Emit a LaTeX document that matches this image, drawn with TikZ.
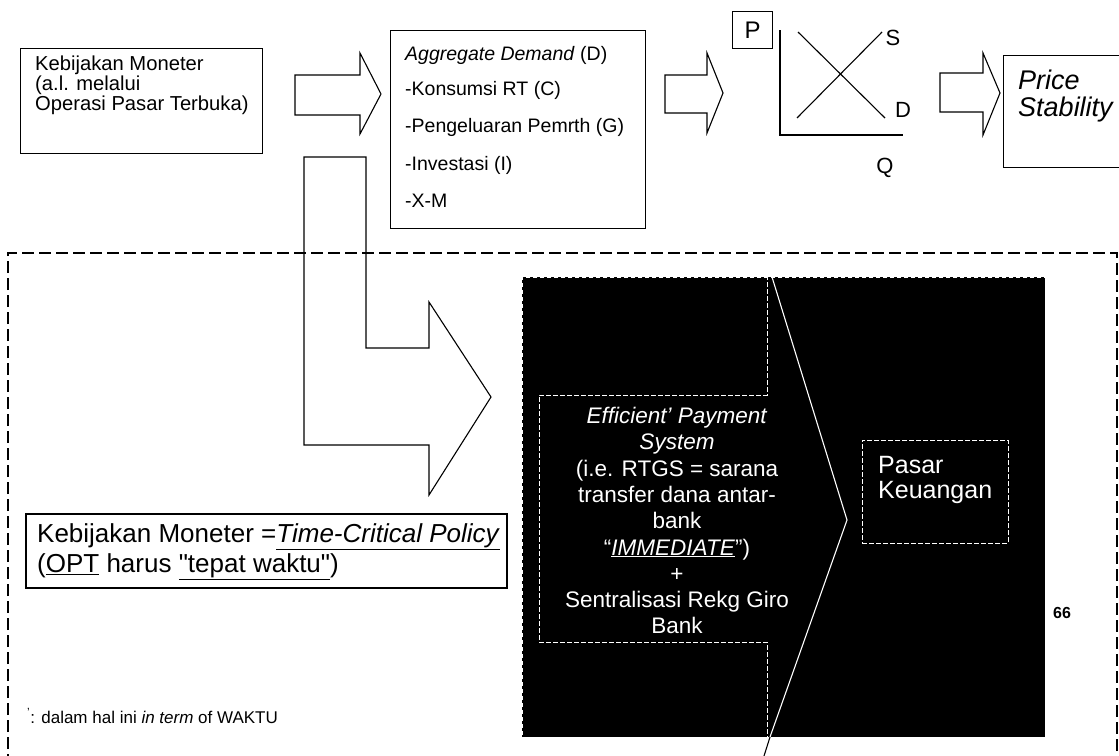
\documentclass[tikz,border=0pt]{standalone}
\usepackage{fontspec}
\setmainfont{Liberation Sans}
\begin{document}
\begin{tikzpicture}[x=1pt,y=-1pt,
  box/.style={draw=black,line width=1.2pt,fill=white,inner sep=0pt},
  blockarrow/.style={draw=black,line width=1.1pt,fill=white,line join=miter},
  frame/.style={draw=black,line width=1.8pt,dash pattern=on 12pt off 5pt},
  wdash/.style={draw=white,line width=0.9pt,dash pattern=on 5pt off 2pt},
  txt/.style={inner sep=0pt,text=black},
  wtxt/.style={inner sep=0pt,text=white},
  fs/.style={font=\fontsize{#1}{#1}\selectfont}]
\useasboundingbox (0,0) rectangle (1119,755);
\clip (0,0) rectangle (1119,755);

% ---- top row ----
\node[box,anchor=north west,minimum width=242pt,minimum height=105pt] (km) at (20,48) {};
\node[txt,anchor=north west,align=left,font=\fontsize{20.2}{18.8}\selectfont] (kmtext) at (35,56)
  {Kebijakan Moneter\\(a.l. melalui\\Operasi Pasar Terbuka)};

\coordinate (a1b) at (295,75);
\draw[blockarrow] (a1b) -- (360,75) -- (360,53) -- (381,94) -- (360,134) -- (360,115) -- (295,115) -- cycle;

\node[box,anchor=north west,minimum width=255pt,minimum height=198pt] (ad) at (390,30) {};
\node[txt,fs=19.5,anchor=base west] (ad0) at (405,60) {\textit{Aggregate Demand} (D)};
\node[txt,fs=19.5,anchor=base west] (ad1) at (405,95) {-Konsumsi RT (C)};
\node[txt,fs=19.5,anchor=base west] (ad2) at (405,132) {-Pengeluaran Pemrth (G)};
\node[txt,fs=19.5,anchor=base west] (ad3) at (405,170) {-Investasi (I)};
\node[txt,fs=19.5,anchor=base west] (ad4) at (405,207) {-X-M};

\draw[blockarrow] (665,75) -- (707,75) -- (707,53) -- (723,93) -- (707,133) -- (707,113) -- (665,113) -- cycle;

\node[box,anchor=north west,minimum width=40pt,minimum height=37pt,line width=1pt] (pbox) at (732,11) {};
\node[txt,fs=24] (p) at (pbox.center) {P};
\coordinate (ax0) at (780,30);
\coordinate (ax1) at (780,135);
\coordinate (ax2) at (903,135);
\draw[line width=1.1pt] (ax0) -- (ax1) -- (ax2);
\coordinate (s0) at (797,118);
\coordinate (s1) at (882,32);
\coordinate (d0) at (798,32);
\coordinate (d1) at (885,118);
\draw[line width=1.1pt] (s0) -- (s1);
\draw[line width=1.1pt] (d0) -- (d1);
\node[txt,fs=22] (slab) at (893,38) {S};
\node[txt,fs=22] (dlab) at (903,110) {D};
\node[txt,fs=22] (qlab) at (885,168) {Q};

\draw[blockarrow] (940,73) -- (983,73) -- (983,53) -- (1000,93) -- (983,135) -- (983,112) -- (940,112) -- cycle;

\node[box,anchor=north west,minimum width=125pt,minimum height=112pt] (ps) at (1003,55) {};
\node[txt,anchor=north west,align=left,font=\fontsize{27}{27}\selectfont\itshape] (pstext) at (1018,70)
  {Price\\Stability};

% ---- L-shaped arrow ----
\draw[blockarrow] (304,157) -- (366,157) -- (366,348) -- (429,348) -- (429,302) -- (491,397)
  -- (429,495) -- (429,445) -- (304,445) -- cycle;

% ---- dashed frame ----
\draw[frame] (8,800) -- (8,253) -- (1117,253) -- (1117,800);

% ---- dark panel ----
\node[anchor=north west,fill=black,draw=white,line width=0.8pt,dash pattern=on 4pt off 3pt,
  minimum width=523pt,minimum height=460pt,inner sep=0pt] (panel) at (522,277) {};
\draw[wdash] (539,640) -- (539,395) -- (767,395) -- (767,277);
\draw[wdash] (539,642) -- (767,642) -- (767,737);
\coordinate (cv0) at (772,277);
\coordinate (cv1) at (847,520);
\coordinate (cv2) at (770,737);
\coordinate (cv3) at (764,756);
\draw[white,line width=1.1pt] (cv0) -- (cv1) -- (cv2);
\draw[black,line width=1.1pt] (cv2) -- (cv3);

\node[wtxt,anchor=north,align=center,font=\fontsize{22.5}{26.3}\selectfont] (eps) at (677,407)
  {\textit{Efficient’ Payment}\\\textit{System}\\(i.e. RTGS = sarana\\transfer dana antar-\\bank\\
   “\underline{\textit{IMMEDIATE}}”)\\+\\Sentralisasi Rekg Giro\\Bank};

\node[anchor=north west,draw=white,line width=0.9pt,dash pattern=on 5pt off 2pt,
  minimum width=146pt,minimum height=103pt,inner sep=0pt] (pk) at (862,440) {};
\node[wtxt,anchor=north west,align=left,font=\fontsize{25}{25}\selectfont] (pktext) at (878,456)
  {Pasar\\Keuangan};

\node[txt,fs=16] (pg) at (1062,613) {\textbf{66}};

% ---- bottom left ----
\node[box,anchor=north west,minimum width=481pt,minimum height=74pt,line width=1.5pt] (tc) at (25,513) {};
\node[txt,anchor=north west,align=left,font=\fontsize{26}{30}\selectfont] (tctext) at (37,523)
  {Kebijakan Moneter =\underline{\textit{Time-Critical Policy}}\\(\underline{OPT} harus \underline{\textquotedbl tepat waktu\textquotedbl})};

\node[txt,fs=17,anchor=base west] (fn) at (27,723)
  {\textsuperscript{’}: dalam hal ini \textit{in term} of WAKTU};
\end{tikzpicture}
\end{document}
